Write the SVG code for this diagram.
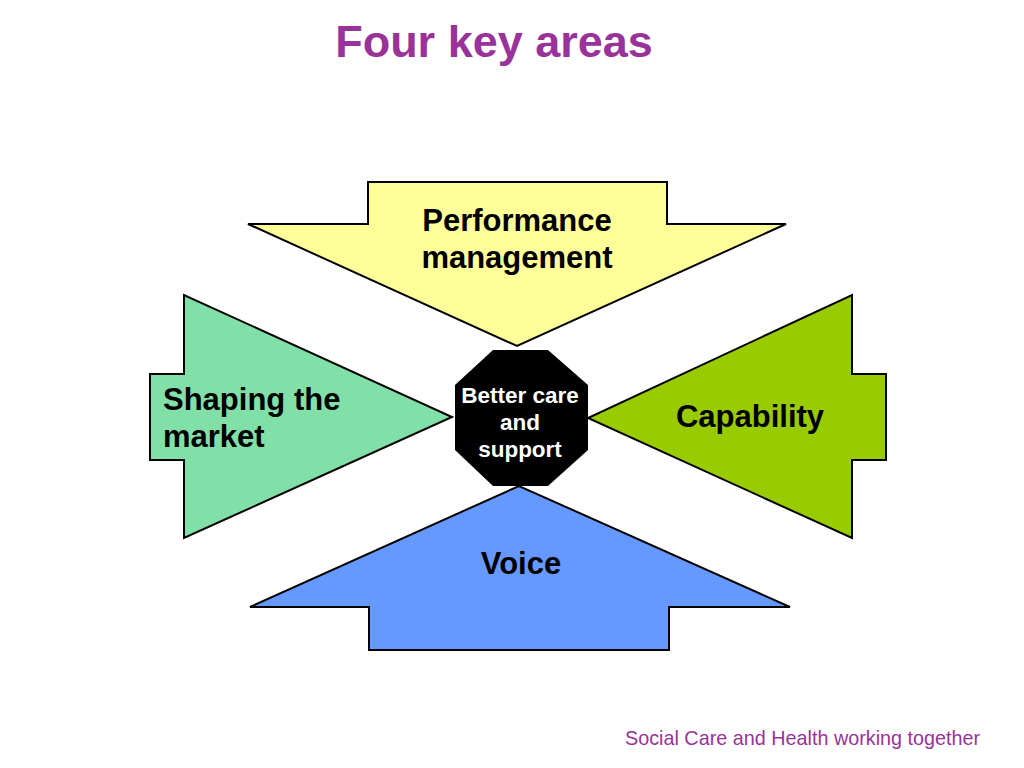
<svg xmlns="http://www.w3.org/2000/svg" width="1024" height="768" viewBox="0 0 1024 768">
<style>
.arrow{stroke:#000;stroke-width:2;stroke-linejoin:miter}
.lbl{font-family:"Liberation Sans",Arial,sans-serif;font-weight:bold;font-size:31px;fill:#000}
.ctr{font-family:"Liberation Sans",Arial,sans-serif;font-weight:bold;font-size:22.5px;fill:#fff;text-anchor:middle}
.title{font-family:"Liberation Sans",Arial,sans-serif;font-weight:bold;font-size:45px;fill:#993399;text-anchor:middle}
.foot{font-family:"Liberation Sans",Arial,sans-serif;font-size:19.8px;fill:#993399}
</style>
<rect width="1024" height="768" fill="#fff"/>
<text class="title" x="494" y="57">Four key areas</text>
<g id="performance">
<polygon class="arrow" fill="#FFFF99" points="368,182 667,182 667,224 786,224 517,346 248,224 368,224"/>
<text class="lbl" x="517" y="231" text-anchor="middle">Performance</text>
<text class="lbl" x="517" y="268" text-anchor="middle">management</text>
</g>
<g id="shaping">
<polygon class="arrow" fill="#80E0A8" points="150,374 184,374 184,295 452,417 184,538 184,460 150,460"/>
<text class="lbl" x="163" y="410">Shaping the</text>
<text class="lbl" x="163" y="447">market</text>
</g>
<g id="capability">
<polygon class="arrow" fill="#99CC00" points="886,374 852,374 852,295 588,418 852,538 852,460 886,460"/>
<text class="lbl" x="750" y="427" text-anchor="middle">Capability</text>
</g>
<g id="voice">
<polygon class="arrow" fill="#6699FF" points="369,650 669,650 669,607 790,607 519,486 250,607 369,607"/>
<text class="lbl" x="521" y="574" text-anchor="middle">Voice</text>
</g>
<g id="center">
<polygon fill="#000" points="493,350 548,350 588,385 588,450 548,486 493,486 455,450 455,385"/>
<text class="ctr" x="520" y="403">Better care</text>
<text class="ctr" x="520" y="430">and</text>
<text class="ctr" x="520" y="457">support</text>
</g>
<g id="connectors"></g>
<text class="foot" x="625" y="745">Social Care and Health working together</text>
</svg>
